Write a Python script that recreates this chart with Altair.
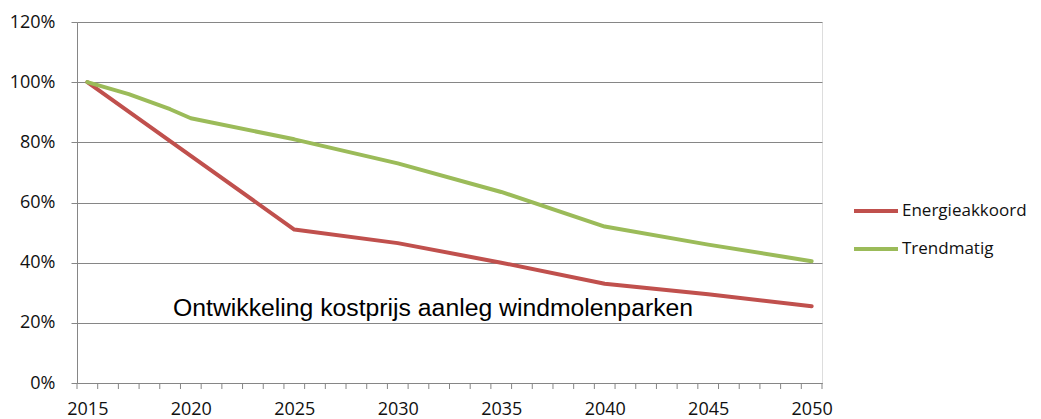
import altair as alt
import pandas as pd

# ---- data ----
series_names = ["Energieakkoord", "Trendmatig"]
series_colors = ["#C0504D", "#9BBB59"]

years_energie = [2015, 2020, 2025, 2030, 2035, 2040, 2045, 2050]
energie = [1.00, 0.755, 0.51, 0.465, 0.40, 0.33, 0.295, 0.255]

years_trend = [2015, 2016, 2017, 2018, 2019, 2020, 2025, 2030, 2035, 2040, 2045, 2050]
trend = [1.00, 0.98, 0.96, 0.935, 0.91, 0.88, 0.81, 0.73, 0.635, 0.52, 0.46, 0.405]

y_tick_values = [0.0, 0.2, 0.4, 0.6, 0.8, 1.0, 1.2]
x_label_years = [2015, 2020, 2025, 2030, 2035, 2040, 2045, 2050]
first_year = 2015
last_year = 2050

annotation_text = ["Ontwikkeling kostprijs aanleg windmolenparken"]
annotation_year = [2019.14]
annotation_value = [0.223]

# ---- build tables ----
df = pd.concat([
    pd.DataFrame({"jaar": years_energie, "waarde": energie, "reeks": series_names[0]}),
    pd.DataFrame({"jaar": years_trend, "waarde": trend, "reeks": series_names[1]}),
], ignore_index=True)

ann = pd.DataFrame({"jaar": annotation_year, "waarde": annotation_value, "tekst": annotation_text})

# category boundaries (ticks between years, like a category axis)
boundaries = pd.DataFrame({"grens": [first_year - 0.5 + i for i in range(last_year - first_year + 2)]})

AXIS_GRAY = "#868686"
FONT = "Open Sans"
TXT = "#111111"

x_scale = alt.Scale(domain=[first_year - 0.5, last_year + 0.5], nice=False, zero=False)
y_scale = alt.Scale(domain=[0, 1.2], nice=False)

x_axis = alt.Axis(
    values=x_label_years,
    format="d",
    labelOverlap=False,
    labelFlush=False,
    grid=False,
    ticks=False,
    domainColor=AXIS_GRAY,
    labelFont=FONT,
    labelFontSize=18,
    labelColor=TXT,
    labelPadding=17,
    title=None,
)

y_axis = alt.Axis(
    values=y_tick_values,
    format=".0%",
    grid=True,
    gridColor=AXIS_GRAY,
    gridWidth=1,
    tickSize=6,
    tickColor=AXIS_GRAY,
    domainColor=AXIS_GRAY,
    labelFont=FONT,
    labelFontSize=18,
    labelColor=TXT,
    labelPadding=16,
    title=None,
)

lines = alt.Chart(df).mark_line(strokeWidth=4, strokeJoin="round", strokeCap="round").encode(
    x=alt.X("jaar:Q", scale=x_scale, axis=x_axis),
    y=alt.Y("waarde:Q", scale=y_scale, axis=y_axis),
    color=alt.Color(
        "reeks:N",
        scale=alt.Scale(domain=series_names, range=series_colors),
        legend=alt.Legend(
            orient="none",
            legendX=775,
            legendY=165,
            symbolType="stroke",
            symbolSize=1936,
            symbolStrokeWidth=4,
            labelFont=FONT,
            labelFontSize=17,
            labelColor=TXT,
            labelOffset=2,
            rowPadding=6,
            title=None,
        ),
    ),
)

minor_ticks = alt.Chart(boundaries).mark_rule(color=AXIS_GRAY, strokeWidth=1, y2Offset=6).encode(
    x=alt.X("grens:Q", scale=x_scale),
    y=alt.datum(0),
    y2=alt.datum(0),
)

text = alt.Chart(ann).mark_text(
    align="left", baseline="alphabetic", font="Liberation Sans", fontSize=24.75, color="#000000"
).encode(
    x=alt.X("jaar:Q", scale=x_scale),
    y=alt.Y("waarde:Q", scale=y_scale),
    text="tekst:N",
)

chart = alt.layer(lines, minor_ticks, text).properties(
    width=745,
    height=361,
    padding={"left": 69, "top": 14, "right": 211, "bottom": 36},
    autosize=alt.AutoSizeParams(type="none"),
).configure_view(stroke=None).configure(background="white")

chart.save("out.html", embed_options={"renderer": "svg", "actions": False})
